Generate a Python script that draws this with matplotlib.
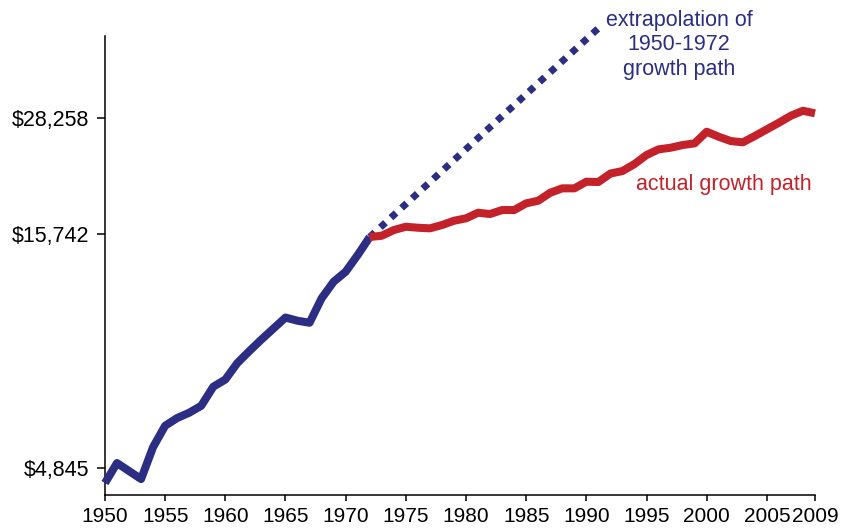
import matplotlib

matplotlib.use("Agg")
import matplotlib.pyplot as plt
from matplotlib.ticker import FixedLocator, NullLocator

plt.rcParams["font.family"] = ["Liberation Sans", "DejaVu Sans"]

YEARS_EARLY = list(range(1950, 1973))
GDP_EARLY = [
    4489, 4964, 4768, 4580, 5381, 5990, 6227, 6395, 6624, 7290,
    7558, 8213, 8724, 9245, 9771, 10327, 10162, 10059, 11375, 12366,
    13005, 14146, 15487,
]
YEARS_LATE = list(range(1972, 2010))
GDP_LATE = [
    15487, 15588, 16042, 16311, 16229, 16180, 16451, 16811, 17016, 17502,
    17388, 17742, 17742, 18350, 18592, 19356, 19789, 19789, 20458, 20427,
    21320, 21590, 22365, 23401, 24082, 24277, 24609, 24821, 26313, 25660,
    25110, 24946, 25750, 26633, 27533, 28521, 29248, 28868,
]
EXTRAP_YEARS = [1972, 1991]
EXTRAP_GDP = [15487, 44300]

Y_TICKS = [4845, 15742, 28258]
Y_TICK_LABELS = ["$4,845", "$15,742", "$28,258"]
X_TICKS = [1950, 1955, 1960, 1965, 1970, 1975, 1980, 1985, 1990, 1995, 2000, 2005, 2009]

BLUE = "#2B2E83"
RED = "#C4222B"

fig = plt.figure(figsize=(8.5, 5.3), dpi=100)
ax = fig.add_axes([0.1235, 0.066, 0.8353, 0.866])

ax.plot(EXTRAP_YEARS, EXTRAP_GDP, color=BLUE, lw=5.0, dashes=(1.0, 1.07),
        dash_capstyle="butt", clip_on=False, zorder=2)
ax.plot(YEARS_EARLY, GDP_EARLY, color=BLUE, lw=5.8, solid_capstyle="butt",
        solid_joinstyle="round", clip_on=False, zorder=3)
ax.plot(YEARS_LATE, GDP_LATE, color=RED, lw=5.8, solid_capstyle="butt",
        solid_joinstyle="round", clip_on=False, zorder=3)

ax.set_yscale("log")
ax.set_xlim(1950, 2009)
ax.set_ylim(4226, 42600)

ax.yaxis.set_major_locator(FixedLocator(Y_TICKS))
ax.yaxis.set_minor_locator(NullLocator())
ax.set_yticklabels(Y_TICK_LABELS)
ax.set_xticks(X_TICKS)

for side in ["top", "right"]:
    ax.spines[side].set_visible(False)
for side in ["left", "bottom"]:
    ax.spines[side].set_linewidth(1.1)

ax.tick_params(axis="y", direction="out", length=6, width=1.1, pad=5.5, labelsize=15.5)
ax.tick_params(axis="x", direction="out", length=4.5, width=1.1, pad=4.0, labelsize=15)

ax.text(0.8085, 0.9806, "extrapolation of\n1950-1972\ngrowth path", transform=ax.transAxes,
        ha="center", va="center", color=BLUE, fontsize=15.5, linespacing=1.2,
        clip_on=False)
ax.text(0.872, 0.676, "actual growth path", transform=ax.transAxes,
        ha="center", va="center", color=RED, fontsize=15.5)

fig.savefig("out.png", dpi=100)
